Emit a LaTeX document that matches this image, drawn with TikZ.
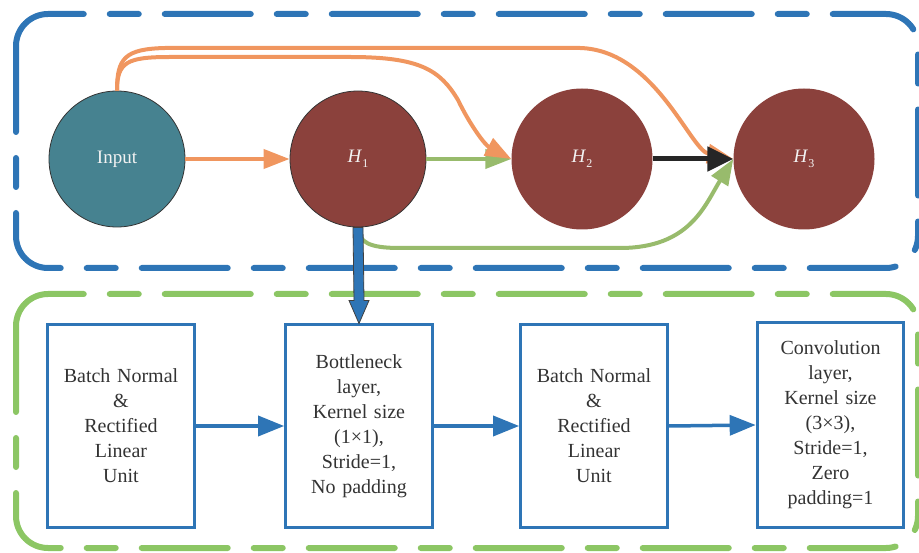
\documentclass[tikz,border=0pt]{standalone}
\usepackage{fontspec}
\setmainfont{Liberation Serif}
\usetikzlibrary{arrows.meta,calc}
\definecolor{myblue}{HTML}{2E75B6}
\definecolor{lgreen}{HTML}{8CC664}
\definecolor{myorange}{HTML}{F0965F}
\definecolor{agreen}{HTML}{98BB6C}
\definecolor{teal}{HTML}{468290}
\definecolor{hred}{HTML}{8B413C}
\definecolor{txt}{HTML}{333333}
\tikzset{
  frame/.style={line width=6pt, line cap=round, rounded corners=32pt, dash pattern=on 86pt off 26pt on 29pt off 26pt},
  innode/.style={circle, minimum size=136pt, inner sep=0pt, fill=teal, draw=black!80, line width=0.8pt, text=white!95!black, font=\fontsize{19}{22}\selectfont},
  hnode/.style={circle, minimum size=141pt, inner sep=0pt, fill=hred, text=white!95!black, font=\fontsize{19}{22}\selectfont},
  boxnode/.style={rectangle, draw=myblue, line width=3pt, minimum width=146pt, minimum height=202pt, text width=140pt, align=center, text=txt, font=\fontsize{20}{25}\selectfont},
  oarr/.style={draw=myorange, line width=4pt, -{Triangle[length=26pt,width=19pt]}},
  garr/.style={draw=agreen, line width=4pt, -{Triangle[length=26pt,width=19pt]}},
  karr/.style={draw=black!85, line width=5pt, -{Triangle[length=26pt,width=24pt]}},
  barr/.style={draw=myblue, line width=3.5pt, -{Triangle[length=26pt,width=20pt]}},
}
\newcommand{\Hsub}[1]{\textit{H}\raisebox{-5pt}{\fontsize{12}{12}\selectfont #1}}
\begin{document}
\begin{tikzpicture}[x=1pt,y=-1pt]
\useasboundingbox (0,0) rectangle (919,553);
% frames
\draw[frame, draw=myblue] (16,14) rectangle (918,268);
\draw[frame, draw=lgreen] (16,294) rectangle (918,548);
% top nodes
\node[innode] (in) at (117,159) {Input};
\node[innode, fill=hred] (h1) at (358,159) {\Hsub{1}};
\node[hnode] (h2) at (582,159) {\Hsub{2}};
\node[hnode] (h3) at (804,159) {\Hsub{3}};
% bottom boxes
\node[boxnode] (b1) at (121,426) {Batch Normal\\\&\\Rectified\\Linear\\Unit};
\node[boxnode] (b2) at (359,426) {Bottleneck\\layer,\\Kernel size\\(1×1),\\Stride=1,\\No padding};
\node[boxnode] (b3) at (594,426) {Batch Normal\\\&\\Rectified\\Linear\\Unit};
\node[boxnode, minimum height=204pt] (b4) at (830.5,425) {Convolution\\layer,\\Kernel size\\(3×3),\\Stride=1,\\Zero\\padding=1};
% top connectors
\draw[garr] (h1.south) .. controls (359,242) and (368,248) .. (400,248) -- (620,248) .. controls (690,248) and (705,205) .. (h3.west);
\draw[garr] (h1.east) -- (h2.west);
\draw[oarr] (in.east) -- (h1.west);
\draw[oarr] (in.north) .. controls (117,62) and (127,57) .. (170,57) -- (350,57) .. controls (420,57) and (440,70) .. (458,100) .. controls (470,125) and (485,145) .. (h2.west);
\draw[oarr] (in.north) .. controls (117,58) and (125,49) .. (165,48) -- (580,48) .. controls (655,50) and (690,150) .. (h3.west);
\draw[karr] (h2.east) -- (h3.west);
% block arrow
\filldraw[fill=myblue, draw=black!75, line width=0.8pt]
  ($(h1.south)+(-5,0)$) -- ($(b2.north)+(-5,-23)$) -- ($(b2.north)+(-10,-23)$) -- (b2.north)
  -- ($(b2.north)+(10,-23)$) -- ($(b2.north)+(5,-23)$) -- ($(h1.south)+(5,0)$) -- cycle;
% bottom connectors
\draw[barr] (b1.east) -- (b2.west);
\draw[barr] (b2.east) -- (b3.west);
\draw[barr] (b3.east) -- (b4.west);
\end{tikzpicture}
\end{document}
